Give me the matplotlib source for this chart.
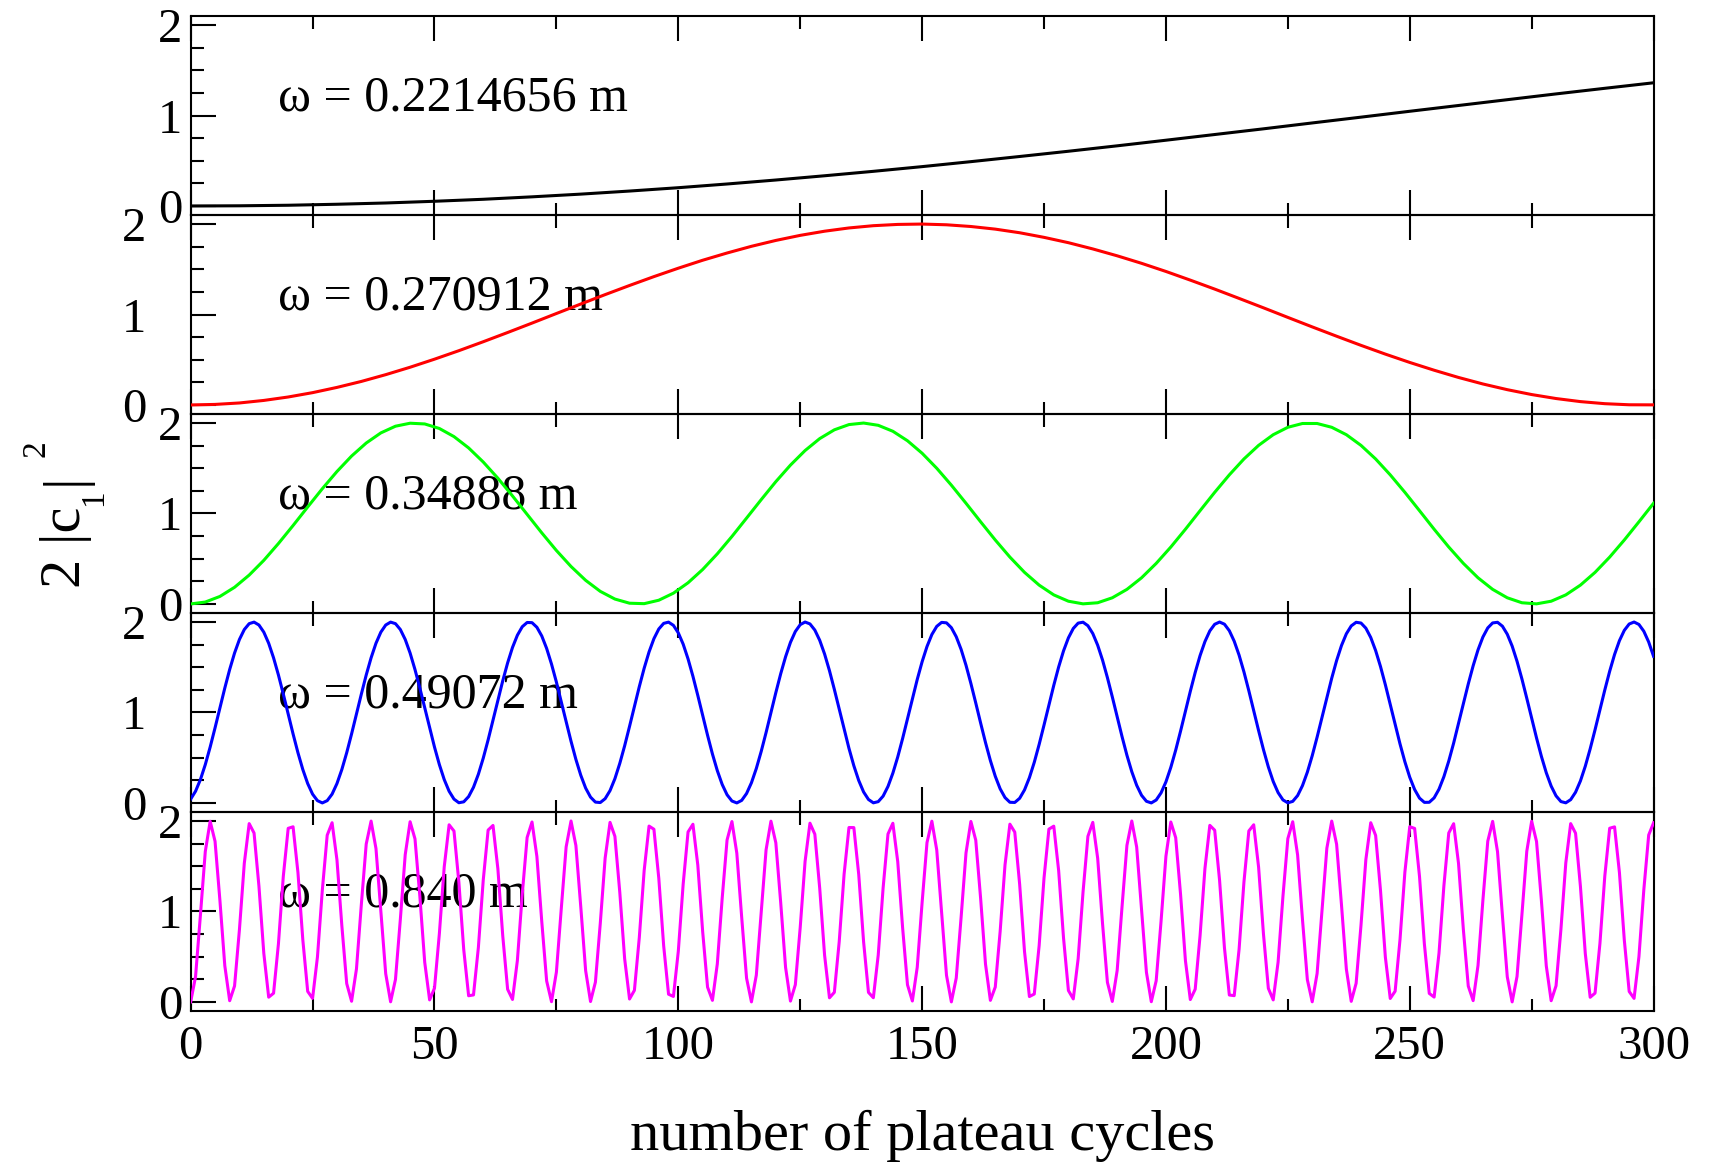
import numpy as np
import matplotlib
matplotlib.use("Agg")
import matplotlib.pyplot as plt
from matplotlib.ticker import MultipleLocator

plt.rcParams["font.family"] = ["Liberation Serif", "DejaVu Serif"]

# ---------------------------------------------------------------- data
# 2|c1|^2 versus number of plateau cycles, one series per driving frequency

omega_labels = ["ω = 0.2214656 m", "ω = 0.270912 m", "ω = 0.34888 m",
                "ω = 0.49072 m", "ω = 0.840 m"]
line_colors = ["#000000", "#ff0000", "#00ff00", "#0000ff", "#ff00ff"]

# sampling step (in cycles) of each series
step_black, step_red, step_green, step_blue, step_magenta = 10, 5, 3, 1, 1

pop_black = [0.000, 0.002, 0.008, 0.019, 0.033, 0.052, 0.074, 0.101, 0.131, 0.165,
             0.202, 0.243, 0.287, 0.334, 0.383, 0.435, 0.490, 0.547, 0.605, 0.665,
             0.727, 0.790, 0.853, 0.918, 0.982, 1.047, 1.111, 1.175, 1.239, 1.301,
             1.362]

pop_red = [0.000, 0.006, 0.022, 0.050, 0.088, 0.136, 0.194, 0.260, 0.335, 0.417,
           0.506, 0.600, 0.699, 0.801, 0.905, 1.011, 1.116, 1.220, 1.321, 1.419,
           1.512, 1.600, 1.680, 1.754, 1.819, 1.875, 1.921, 1.957, 1.982, 1.996,
           2.000, 1.992, 1.973, 1.944, 1.904, 1.853, 1.794, 1.725, 1.649, 1.566,
           1.476, 1.380, 1.281, 1.178, 1.074, 0.968, 0.863, 0.760, 0.659, 0.562,
           0.470, 0.384, 0.304, 0.232, 0.169, 0.115, 0.071, 0.037, 0.014, 0.002,
           0.001]

pop_green = [0.000, 0.021, 0.083, 0.184, 0.319, 0.482, 0.668, 0.867, 1.072, 1.274,
             1.464, 1.635, 1.779, 1.891, 1.965, 1.998, 1.990, 1.940, 1.850, 1.725,
             1.569, 1.390, 1.194, 0.990, 0.786, 0.591, 0.414, 0.261, 0.139, 0.054,
             0.008, 0.003, 0.041, 0.119, 0.234, 0.381, 0.554, 0.746, 0.949, 1.153,
             1.352, 1.535, 1.696, 1.828, 1.925, 1.983, 2.000, 1.975, 1.909, 1.804,
             1.666, 1.500, 1.313, 1.113, 0.908, 0.707, 0.518, 0.349, 0.208, 0.100,
             0.030, 0.001, 0.013, 0.068, 0.161, 0.289, 0.448, 0.629, 0.826, 1.031,
             1.234, 1.427, 1.603, 1.753, 1.871, 1.953, 1.995, 1.995, 1.953, 1.871,
             1.753, 1.603, 1.427, 1.234, 1.031, 0.826, 0.629, 0.448, 0.289, 0.161,
             0.068, 0.013, 0.001, 0.030, 0.100, 0.208, 0.349, 0.518, 0.707, 0.908,
             1.113]

pop_blue = [0.042, 0.129, 0.258, 0.424, 0.618, 0.830, 1.052, 1.270, 1.475, 1.657,
            1.807, 1.917, 1.982, 1.999, 1.967, 1.888, 1.765, 1.604, 1.414, 1.203,
            0.983, 0.763, 0.555, 0.369, 0.214, 0.097, 0.025, 0.000, 0.025, 0.097,
            0.214, 0.369, 0.555, 0.763, 0.983, 1.203, 1.414, 1.604, 1.765, 1.888,
            1.967, 1.999, 1.982, 1.917, 1.807, 1.657, 1.475, 1.270, 1.052, 0.830,
            0.618, 0.424, 0.258, 0.129, 0.042, 0.002, 0.012, 0.070, 0.173, 0.317,
            0.495, 0.697, 0.914, 1.136, 1.350, 1.548, 1.719, 1.854, 1.948, 1.995,
            1.993, 1.942, 1.846, 1.708, 1.535, 1.336, 1.120, 0.899, 0.682, 0.481,
            0.306, 0.164, 0.064, 0.009, 0.004, 0.047, 0.136, 0.268, 0.437, 0.632,
            0.846, 1.067, 1.285, 1.489, 1.669, 1.816, 1.923, 1.985, 1.999, 1.963,
            1.880, 1.755, 1.592, 1.400, 1.188, 0.967, 0.748, 0.541, 0.357, 0.204,
            0.090, 0.021, 0.000, 0.028, 0.104, 0.223, 0.381, 0.569, 0.778, 0.998,
            1.219, 1.428, 1.616, 1.775, 1.895, 1.971, 2.000, 1.979, 1.911, 1.798,
            1.646, 1.462, 1.255, 1.036, 0.815, 0.603, 0.411, 0.248, 0.121, 0.038,
            0.001, 0.014, 0.075, 0.182, 0.329, 0.508, 0.712, 0.930, 1.151, 1.365,
            1.561, 1.729, 1.862, 1.952, 1.996, 1.991, 1.937, 1.837, 1.697, 1.522,
            1.321, 1.105, 0.883, 0.667, 0.468, 0.295, 0.156, 0.059, 0.007, 0.005,
            0.051, 0.144, 0.279, 0.449, 0.647, 0.861, 1.083, 1.300, 1.503, 1.681,
            1.825, 1.929, 1.988, 1.998, 1.959, 1.873, 1.744, 1.579, 1.385, 1.173,
            0.952, 0.733, 0.527, 0.345, 0.195, 0.084, 0.018, 0.000, 0.032, 0.111,
            0.233, 0.393, 0.583, 0.794, 1.014, 1.234, 1.442, 1.629, 1.784, 1.902,
            1.975, 2.000, 1.976, 1.904, 1.788, 1.634, 1.448, 1.240, 1.020, 0.800,
            0.589, 0.398, 0.237, 0.114, 0.033, 0.001, 0.017, 0.081, 0.191, 0.340,
            0.522, 0.727, 0.945, 1.166, 1.379, 1.574, 1.740, 1.870, 1.957, 1.997,
            1.989, 1.932, 1.829, 1.685, 1.508, 1.306, 1.089, 0.868, 0.653, 0.455,
            0.284, 0.148, 0.053, 0.006, 0.007, 0.056, 0.152, 0.290, 0.463, 0.661,
            0.877, 1.098, 1.315, 1.516, 1.692, 1.834, 1.935, 1.990, 1.997, 1.954,
            1.865, 1.734, 1.566, 1.371, 1.157, 0.936, 0.718, 0.514, 0.333, 0.186,
            0.078, 0.015, 0.001, 0.036, 0.118, 0.243, 0.406, 0.598, 0.809, 1.030,
            1.249, 1.456, 1.641, 1.794, 1.908, 1.978, 2.000, 1.973, 1.898, 1.779,
            1.621]

pop_magenta = [0.000, 0.279, 0.959, 1.663, 1.997, 1.775, 1.121, 0.400,
               0.013, 0.176, 0.799, 1.533, 1.971, 1.867, 1.280, 0.537,
               0.052, 0.096, 0.643, 1.390, 1.919, 1.936, 1.431, 0.686,
               0.116, 0.039, 0.497, 1.236, 1.843, 1.981, 1.571, 0.844,
               0.203, 0.007, 0.364, 1.076, 1.745, 1.999, 1.696, 1.005,
               0.311, 0.001, 0.248, 0.914, 1.628, 1.992, 1.803, 1.167,
               0.437, 0.022, 0.151, 0.754, 1.494, 1.958, 1.889, 1.324,
               0.578, 0.068, 0.077, 0.601, 1.347, 1.900, 1.951, 1.472,
               0.730, 0.139, 0.027, 0.458, 1.191, 1.818, 1.989, 1.608,
               0.889, 0.232, 0.002, 0.329, 1.030, 1.714, 2.000, 1.729,
               1.051, 0.345, 0.004, 0.218, 0.868, 1.591, 1.985, 1.830,
               1.212, 0.476, 0.032, 0.128, 0.710, 1.453, 1.944, 1.909,
               1.367, 0.620, 0.085, 0.060, 0.559, 1.303, 1.879, 1.964,
               1.512, 0.775, 0.163, 0.017, 0.420, 1.146, 1.790, 1.994,
               1.644, 0.935, 0.262, 0.000, 0.296, 0.984, 1.681, 1.998,
               1.759, 1.097, 0.381, 0.009, 0.190, 0.823, 1.554, 1.976,
               1.854, 1.256, 0.516, 0.045, 0.106, 0.666, 1.412, 1.928,
               1.927, 1.409, 0.663, 0.105, 0.046, 0.518, 1.259, 1.856,
               1.975, 1.551, 0.820, 0.189, 0.010, 0.383, 1.100, 1.761,
               1.998, 1.679, 0.981, 0.294, 0.000, 0.264, 0.938, 1.647,
               1.995, 1.788, 1.143, 0.417, 0.017, 0.164, 0.778, 1.515,
               1.965, 1.877, 1.301, 0.556, 0.059, 0.087, 0.623, 1.370,
               1.910, 1.943, 1.451, 0.707, 0.126, 0.033, 0.479, 1.215,
               1.831, 1.985, 1.589, 0.865, 0.216, 0.005, 0.348, 1.054,
               1.731, 2.000, 1.712, 1.027, 0.327, 0.002, 0.234, 0.892,
               1.611, 1.989, 1.816, 1.188, 0.455, 0.026, 0.140, 0.733,
               1.475, 1.952, 1.898, 1.344, 0.598, 0.076, 0.069, 0.581,
               1.327, 1.890, 1.958, 1.491, 0.751, 0.150, 0.022, 0.440,
               1.170, 1.805, 1.992, 1.625, 0.911, 0.246, 0.001, 0.314,
               1.008, 1.699, 1.999, 1.743, 1.073, 0.362, 0.006, 0.205,
               0.847, 1.574, 1.981, 1.841, 1.233, 0.494, 0.038, 0.118,
               0.689, 1.434, 1.937, 1.918, 1.387, 0.640, 0.094, 0.053,
               0.540, 1.283, 1.868, 1.970, 1.531, 0.796, 0.175, 0.014,
               0.403, 1.124, 1.777, 1.996, 1.660, 0.956, 0.277, 0.000,
               0.281, 0.963, 1.665, 1.997, 1.773, 1.118, 0.398, 0.013,
               0.178, 0.802, 1.536, 1.971, 1.865, 1.277, 0.534, 0.051,
               0.097, 0.646, 1.392, 1.920, 1.935, 1.429, 0.683, 0.115,
               0.039, 0.500, 1.239, 1.845, 1.980]

x_ticks = [0, 50, 100, 150, 200, 250, 300]
y_ticks = [0, 1, 2]

series = [(step_black, pop_black), (step_red, pop_red), (step_green, pop_green),
          (step_blue, pop_blue), (step_magenta, pop_magenta)]

# ---------------------------------------------------------------- figure
W, H = 1710, 1162
fig = plt.figure(figsize=(W / 100, H / 100), dpi=100)
left, right, top, bottom = 0.1115, 0.967, 0.9862, 0.1300
gs = fig.add_gridspec(5, 1, left=left, right=right, top=top, bottom=bottom, hspace=0)

for i, ((step, pop), label, color) in enumerate(zip(series, omega_labels, line_colors)):
    ax = fig.add_subplot(gs[i])
    ax.set_facecolor("none")
    cycles = np.arange(len(pop)) * step
    ax.plot(cycles, pop, color=color, lw=2.2, zorder=3)
    ax.set_xlim(0, 300)
    ax.set_ylim(-0.1, 2.1)

    ax.set_xticks(x_ticks)
    ax.xaxis.set_minor_locator(MultipleLocator(25))
    ax.set_yticks(y_ticks)
    ax.yaxis.set_minor_locator(MultipleLocator(0.25))

    ax.tick_params(axis="x", which="both", direction="in", top=True, bottom=True,
                   width=1.5, labelsize=35, pad=10, labelbottom=(i == 4))
    # alternate label offset so neighbouring panels' labels do not collide
    ax.tick_params(axis="y", which="both", direction="in", left=True, right=False,
                   width=1.5, labelsize=35, pad=(32 if i % 2 == 1 else 6))
    ax.tick_params(which="major", length=18)
    ax.tick_params(which="minor", length=9)
    for sp in ax.spines.values():
        sp.set_linewidth(1.5)

    ax.text(0.0599, 0.525, label, transform=ax.transAxes, fontsize=36,
            ha="left", va="baseline", zorder=2)

fig.text((left + right) / 2, 12 / H, "number of plateau cycles",
         fontsize=42, ha="center", va="baseline")


# vertical axis title "2 |c_1|^2", assembled from rotated pieces (pixel positions)
def ylabel_piece(s, x_px, y_px, size):
    fig.text(x_px / W, 1 - y_px / H, s, fontsize=size, rotation=90,
             rotation_mode="anchor", ha="left", va="baseline")


ylabel_piece("2 |c", 80, 588, 42)
ylabel_piece("1", 102, 506, 24)
ylabel_piece("|", 80, 485, 42)
ylabel_piece("2", 45, 457, 24)

fig.savefig("out.png", dpi=100)
